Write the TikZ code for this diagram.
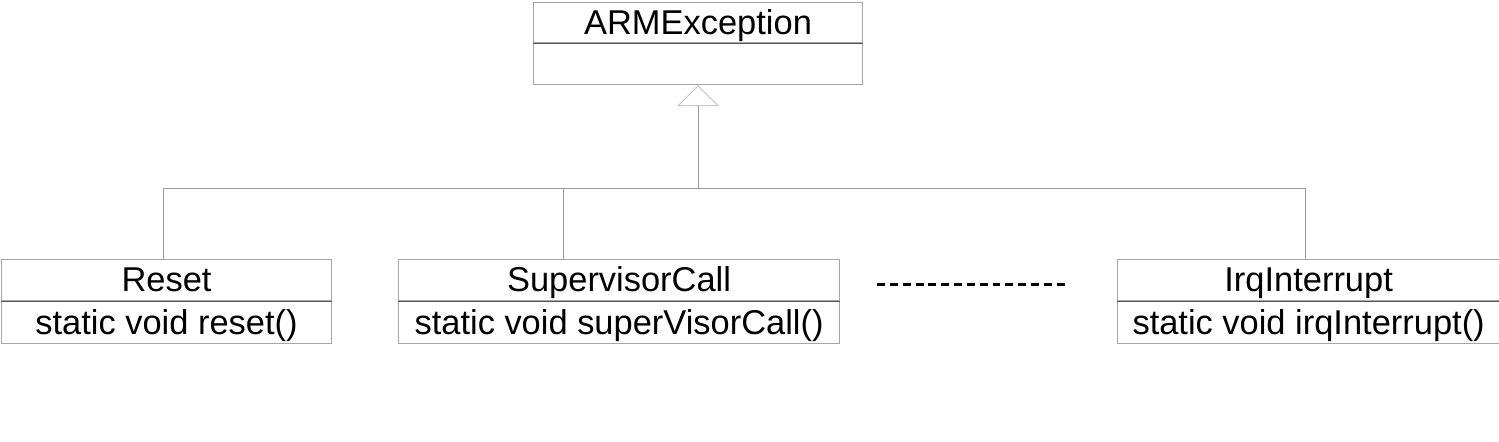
\documentclass[tikz,border=0pt]{standalone}
\usepackage{fontspec}
\setmainfont{Liberation Sans}
\usepackage{tikz}
\usetikzlibrary{arrows.meta,positioning}
\definecolor{UMLBorder}{HTML}{A6A6A6}
\definecolor{UMLDivider}{HTML}{555555}
\definecolor{UMLLine}{HTML}{9A9A9A}
\definecolor{UMLTip}{HTML}{C8C8C8}

\begin{document}
\begin{tikzpicture}[
    node distance=0pt,
    part/.style={draw=UMLBorder, line width=0.6pt, inner sep=0pt, minimum height=8.2mm, text height=5mm, text depth=0.4mm, align=center, font=\fontsize{19.6}{22}\selectfont},
    divider/.style={draw=UMLDivider, line width=0.6pt},
    assoc/.style={draw=UMLLine, line width=0.6pt},
    inherit/.style={assoc, -{Triangle[open, length=4.2mm, width=8.4mm, color=UMLTip]}},
    more/.style={draw=black, line width=1.7pt, dash pattern=on 4.5pt off 2.8pt}
  ]
    \useasboundingbox (0,0) rectangle (29.98,-8.84);

    % superclass
    \node[part, minimum width=6.58cm, minimum height=8mm, anchor=north west] (armt) at (10.66,-0.04) {ARMException};
    \node[part, minimum width=6.58cm, below=of armt] (armb) {};
    \draw[divider] (armt.south west) -- (armt.south east);

    % subclasses
    \node[part, minimum width=6.6cm, anchor=north west] (resett) at (0.02,-5.18) {Reset};
    \node[part, minimum width=6.6cm, minimum height=8.4mm, below=of resett] (resetb) {static void reset()};
    \node[part, minimum width=8.82cm, right=1.32cm of resett] (supt) {SupervisorCall};
    \node[part, minimum width=8.82cm, minimum height=8.4mm, below=of supt] (supb) {static void superVisorCall()};
    \node[part, minimum width=7.64cm, right=5.54cm of supt] (irqt) {IrqInterrupt};
    \node[part, minimum width=7.64cm, minimum height=8.4mm, below=of irqt] (irqb) {static void irqInterrupt()};
    \draw[divider] (resett.south west) -- (resett.south east);
    \draw[divider] (supt.south west) -- (supt.south east);
    \draw[divider] (irqt.south west) -- (irqt.south east);

    \coordinate[below=2.06cm of armb.south] (bus);
    \coordinate (resetin) at ([xshift=-0.06cm]resett.north);
    \coordinate (supin) at ([xshift=-1.11cm]supt.north);
    \coordinate (irqin) at ([xshift=-0.06cm]irqt.north);

    \draw[inherit] (bus) -- (armb.south);
    \draw[assoc] (bus -| resetin) -- (bus -| irqin);
    \draw[assoc] (bus -| resetin) -- (resetin);
    \draw[assoc] (bus -| supin) -- (supin);
    \draw[assoc] (bus -| irqin) -- (irqin);

    % further subclasses left out
    \coordinate (moreA) at ([xshift=0.74cm, yshift=-0.09cm]supt.east);
    \coordinate (moreB) at ([xshift=-1.0cm, yshift=-0.09cm]irqt.west);
    \draw[more] (moreA) -- (moreB);
  \end{tikzpicture}
\end{document}
